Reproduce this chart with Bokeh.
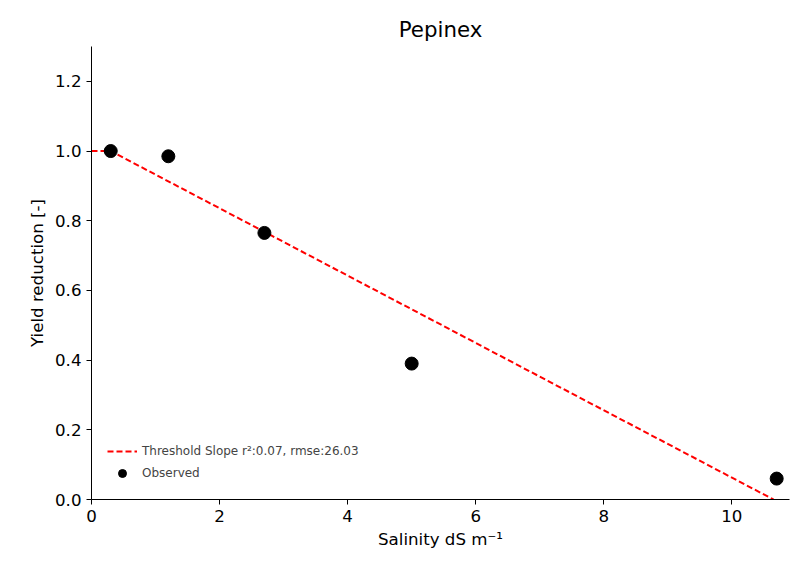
from bokeh.plotting import figure
from bokeh.models import Range1d, Legend, LegendItem, CustomJSTickFormatter
from bokeh.embed import file_html
from bokeh.resources import INLINE

salinity = [0.3, 1.2, 2.7, 5.0, 10.7]
yield_obs = [1.0, 0.985, 0.765, 0.39, 0.06]
fit_x = [0.0, 0.3, 10.65]
fit_y = [1.0, 1.0, 0.0]

p = figure(width=795, height=577, output_backend="svg", toolbar_location=None,
           x_range=Range1d(0, 10.9), y_range=Range1d(0, 1.3),
           min_border_left=91, min_border_top=46, min_border_right=6, min_border_bottom=78,
           title="Pepinex")
p.title.align = "center"
p.title.text_font_size = "16pt"
p.title.text_font_style = "normal"
p.title.text_font = "DejaVu Sans"
p.title.text_color = "black"
p.outline_line_color = None
p.grid.visible = False

for ax in (p.xaxis[0], p.yaxis[0]):
    ax.axis_label_text_font_style = "normal"
    ax.axis_label_text_font_size = "12.5pt"
    ax.axis_label_text_font = "DejaVu Sans"
    ax.axis_label_text_color = "black"
    ax.major_label_text_font_size = "12.5pt"
    ax.major_label_text_font = "DejaVu Sans"
    ax.major_label_text_color = "black"
    ax.axis_line_color = "black"
    ax.major_tick_line_color = "black"
    ax.minor_tick_line_color = None
    ax.major_tick_in = 0
    ax.major_tick_out = 5
p.xaxis.axis_label = "Salinity dS m⁻¹"
p.yaxis.axis_label = "Yield reduction [-]"
p.xaxis.ticker = [0, 2, 4, 6, 8, 10]
p.yaxis.ticker = [0.0, 0.2, 0.4, 0.6, 0.8, 1.0, 1.2]
p.yaxis.formatter = CustomJSTickFormatter(code="return tick.toFixed(1)")

ln = p.line(fit_x, fit_y, line_color="red", line_dash="6 3", line_width=2)
sc = p.scatter(salinity, yield_obs, size=13, fill_color="black", line_color="black")

leg = Legend(items=[LegendItem(label="Threshold Slope r²:0.07, rmse:26.03", renderers=[ln]),
                    LegendItem(label="Observed", renderers=[sc])],
             location="bottom_left", border_line_color=None, background_fill_alpha=0,
             label_text_font_size="9pt", label_text_font="DejaVu Sans",
             glyph_width=30, spacing=2, margin=16)
p.add_layout(leg)

open("out.html", "w").write(file_html(p, INLINE))
